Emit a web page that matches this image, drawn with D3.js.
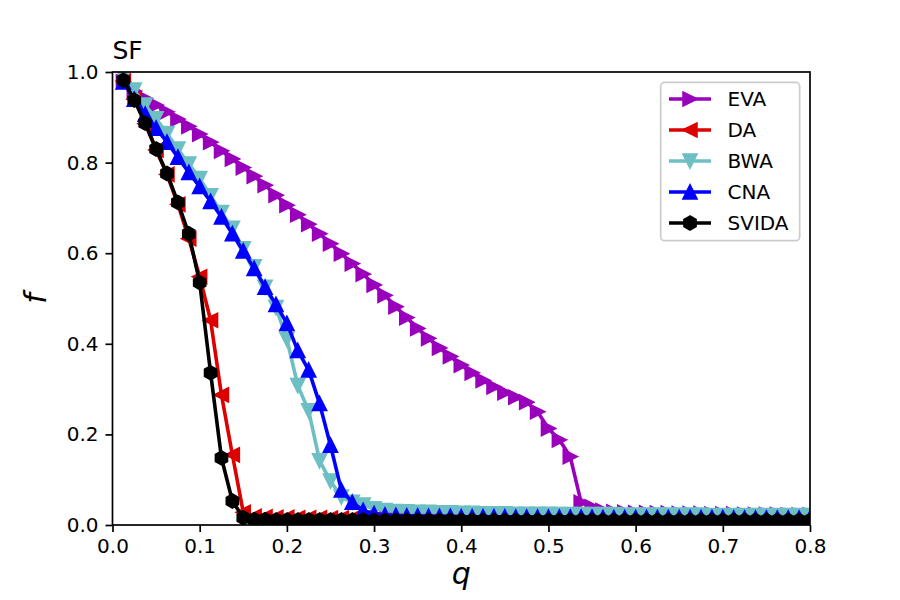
<!DOCTYPE html>
<html>
<head>
<meta charset="utf-8">
<script src="https://cdn.jsdelivr.net/npm/d3@7"></script>
<style>
    body { margin: 0; background: #ffffff; }
    text { font-family: "DejaVu Sans", sans-serif; fill: #000000; }
</style>
</head>
<body>
<div id="chart"></div>
<script>
/*
fraction f of the network left after removing a fraction q of nodes, five attack strategies
 */

//removal fraction q (shared by all series):
var qValues = [0.0125, 0.025, 0.0375, 0.05, 0.0625, 0.075, 0.0875, 0.1, 0.1125, 0.125,
    0.1375, 0.15, 0.1625, 0.175, 0.1875, 0.2, 0.2125, 0.225, 0.2375, 0.25,
    0.2625, 0.275, 0.2875, 0.3, 0.3125, 0.325, 0.3375, 0.35, 0.3625, 0.375,
    0.3875, 0.4, 0.4125, 0.425, 0.4375, 0.45, 0.4625, 0.475, 0.4875, 0.5,
    0.5125, 0.525, 0.5375, 0.55, 0.5625, 0.575, 0.5875, 0.6, 0.6125, 0.625,
    0.6375, 0.65, 0.6625, 0.675, 0.6875, 0.7, 0.7125, 0.725, 0.7375, 0.75,
    0.7625, 0.775, 0.7875, 0.8];

//series values:
var evaValues = [0.978, 0.958, 0.942, 0.927, 0.912, 0.896, 0.880, 0.863, 0.845, 0.826,
    0.808, 0.789, 0.770, 0.750, 0.728, 0.706, 0.685, 0.664, 0.643, 0.621,
    0.599, 0.577, 0.554, 0.530, 0.507, 0.482, 0.458, 0.434, 0.412, 0.391,
    0.372, 0.353, 0.336, 0.319, 0.305, 0.292, 0.282, 0.271, 0.250, 0.213,
    0.188, 0.151, 0.050, 0.040, 0.032, 0.029, 0.028, 0.027, 0.027, 0.026,
    0.026, 0.025, 0.025, 0.025, 0.024, 0.024, 0.024, 0.023, 0.023, 0.023,
    0.023, 0.022, 0.022, 0.022];

var daValues = [0.980, 0.940, 0.886, 0.828, 0.774, 0.708, 0.632, 0.548, 0.452, 0.287,
    0.155, 0.028, 0.019, 0.018, 0.017, 0.017, 0.016, 0.016, 0.016, 0.015,
    0.015, 0.015, 0.015, 0.014, 0.014, 0.014, 0.014, 0.014, 0.014, 0.013,
    0.013, 0.013, 0.013, 0.013, 0.013, 0.013, 0.013, 0.013, 0.013, 0.013,
    0.013, 0.013, 0.013, 0.012, 0.012, 0.012, 0.012, 0.012, 0.012, 0.012,
    0.012, 0.012, 0.012, 0.012, 0.012, 0.012, 0.012, 0.012, 0.012, 0.012,
    0.012, 0.012, 0.012, 0.012];

var bwaValues = [0.990, 0.960, 0.927, 0.897, 0.864, 0.830, 0.797, 0.765, 0.727, 0.690,
    0.655, 0.610, 0.570, 0.525, 0.480, 0.410, 0.308, 0.252, 0.142, 0.097,
    0.062, 0.050, 0.044, 0.036, 0.032, 0.030, 0.029, 0.028, 0.028, 0.027,
    0.027, 0.026, 0.026, 0.025, 0.025, 0.025, 0.024, 0.024, 0.024, 0.024,
    0.023, 0.023, 0.023, 0.023, 0.023, 0.023, 0.022, 0.022, 0.022, 0.022,
    0.022, 0.022, 0.022, 0.022, 0.021, 0.021, 0.021, 0.021, 0.021, 0.021,
    0.021, 0.021, 0.021, 0.021];

var cnaValues = [0.978, 0.940, 0.907, 0.876, 0.845, 0.812, 0.778, 0.747, 0.714, 0.680,
    0.643, 0.605, 0.566, 0.525, 0.487, 0.445, 0.385, 0.342, 0.268, 0.176,
    0.077, 0.050, 0.032, 0.025, 0.022, 0.021, 0.020, 0.020, 0.019, 0.019,
    0.019, 0.018, 0.018, 0.018, 0.018, 0.018, 0.017, 0.017, 0.017, 0.017,
    0.017, 0.017, 0.017, 0.017, 0.016, 0.016, 0.016, 0.016, 0.016, 0.016,
    0.016, 0.016, 0.016, 0.016, 0.016, 0.016, 0.015, 0.015, 0.015, 0.015,
    0.015, 0.015, 0.015, 0.015];

var svidaValues = [0.982, 0.938, 0.887, 0.830, 0.776, 0.712, 0.643, 0.535, 0.336, 0.148,
    0.053, 0.016, 0.012, 0.012, 0.011, 0.011, 0.011, 0.011, 0.011, 0.011,
    0.011, 0.011, 0.011, 0.010, 0.010, 0.010, 0.010, 0.010, 0.010, 0.010,
    0.010, 0.010, 0.010, 0.010, 0.010, 0.010, 0.010, 0.010, 0.010, 0.010,
    0.010, 0.010, 0.010, 0.010, 0.010, 0.010, 0.010, 0.010, 0.010, 0.010,
    0.010, 0.010, 0.010, 0.010, 0.010, 0.010, 0.010, 0.010, 0.010, 0.010,
    0.010, 0.010, 0.010, 0.010];

//names, in drawing order:
var seriesNames = ["EVA", "DA", "BWA", "CNA", "SVIDA"];

//tick labels:
var xTicks = [0.0, 0.1, 0.2, 0.3, 0.4, 0.5, 0.6, 0.7, 0.8];
var yTicks = [0.0, 0.2, 0.4, 0.6, 0.8, 1.0];

//look of each series:
var colorMap = {EVA: "#9a00bc", DA: "#dd0000", BWA: "#6dbfc3", CNA: "#0000ff", SVIDA: "#000000"};
var markerMap = {EVA: "right", DA: "left", BWA: "down", CNA: "up", SVIDA: "hexagon"};
var valueMap = {EVA: evaValues, DA: daValues, BWA: bwaValues, CNA: cnaValues, SVIDA: svidaValues};

var width = 900;
var height = 600;

//create plot pane:
var plot = d3.select("#chart")
    .append("svg")
    .attr("width", width)
    .attr("height", height);

plot.append("rect")
    .attr("width", width)
    .attr("height", height)
    .attr("fill", "#ffffff");

//inner panel bounds (pixels):
var panelLeft = 112.5, panelRight = 810, panelTop = 72, panelBottom = 525;

//set Scales
var xScale = d3.scaleLinear().domain([0, 0.8]).range([panelLeft, panelRight]);
var yScale = d3.scaleLinear().domain([0, 1.0]).range([panelBottom, panelTop]);

plot.append("clipPath")
    .attr("id", "panelClip")
    .append("rect")
    .attr("x", panelLeft)
    .attr("y", panelTop)
    .attr("width", panelRight - panelLeft)
    .attr("height", panelBottom - panelTop);

//marker shapes, size in px
var ms = 13.5;
function markerPath(kind) {
    var h = ms / 2;
    if (kind === "up") return "M0," + (-h) + "L" + h + "," + h + "L" + (-h) + "," + h + "Z";
    if (kind === "down") return "M0," + h + "L" + h + "," + (-h) + "L" + (-h) + "," + (-h) + "Z";
    if (kind === "right") return "M" + h + ",0L" + (-h) + "," + (-h) + "L" + (-h) + "," + h + "Z";
    if (kind === "left") return "M" + (-h) + ",0L" + h + "," + (-h) + "L" + h + "," + h + "Z";
    //hexagon, pointy top
    var pts = [];
    for (var i = 0; i < 6; i++) {
        var a = Math.PI / 2 + i * Math.PI / 3;
        pts.push([h * Math.cos(a), -h * Math.sin(a)]);
    }
    return "M" + pts.map(function (p) { return p[0].toFixed(2) + "," + p[1].toFixed(2); }).join("L") + "Z";
}

var panel = plot.append("g").attr("clip-path", "url(#panelClip)");

var line = d3.line()
    .x(function (d) { return xScale(d.q); })
    .y(function (d) { return yScale(d.f); });

// each series: line then its markers
seriesNames.forEach(function (name) {
    var pts = qValues.map(function (q, i) { return {q: q, f: valueMap[name][i]}; });
    var g = panel.append("g").attr("class", "series");

    g.append("path")
        .datum(pts)
        .attr("d", line)
        .attr("fill", "none")
        .attr("stroke", colorMap[name])
        .attr("stroke-width", 3.6)
        .attr("stroke-linejoin", "round");

    g.selectAll(".mk")
        .data(pts)
        .enter().append("path")
        .attr("class", "mk")
        .attr("d", markerPath(markerMap[name]))
        .attr("transform", function (d) {
            return "translate(" + xScale(d.q) + "," + yScale(d.f) + ")";
        })
        .attr("fill", colorMap[name])
        .attr("stroke", colorMap[name])
        .attr("stroke-width", 2)
        .attr("stroke-linejoin", "miter");
});

//axis:
var xAxis = d3.axisBottom(xScale).tickValues(xTicks).tickFormat(d3.format(".1f"))
    .tickSize(7).tickSizeOuter(0).tickPadding(7);
var yAxis = d3.axisLeft(yScale).tickValues(yTicks).tickFormat(d3.format(".1f"))
    .tickSize(7).tickSizeOuter(0).tickPadding(7);

var gx = plot.append("g")
    .attr("class", "axis")
    .attr("transform", "translate(0," + panelBottom + ")")
    .call(xAxis);
var gy = plot.append("g")
    .attr("class", "axis")
    .attr("transform", "translate(" + panelLeft + ",0)")
    .call(yAxis);

//TODO: move styling in css
[gx, gy].forEach(function (g) {
    g.select(".domain").remove();
    g.selectAll(".tick line").attr("stroke", "#000").attr("stroke-width", 1.7);
    g.selectAll(".tick text").style("font-size", "20px").attr("fill", "#000");
});

//frame
plot.append("rect")
    .attr("x", panelLeft)
    .attr("y", panelTop)
    .attr("width", panelRight - panelLeft)
    .attr("height", panelBottom - panelTop)
    .attr("fill", "none")
    .attr("stroke", "#000")
    .attr("stroke-width", 1.7);

//labels
plot.append("text")
    .attr("x", panelLeft)
    .attr("y", 59)
    .style("font-size", "25px")
    .text("SF");

plot.append("text")
    .attr("x", (panelLeft + panelRight) / 2)
    .attr("y", 584)
    .attr("text-anchor", "middle")
    .style("font-size", "30px")
    .style("font-style", "italic")
    .text("q");

plot.append("text")
    .attr("transform", "translate(46," + ((panelTop + panelBottom) / 2) + ") rotate(-90)")
    .attr("text-anchor", "middle")
    .style("font-size", "30px")
    .style("font-style", "italic")
    .text("f");

//legend
var legend = plot.append("g").attr("class", "legend");
legend.append("rect")
    .attr("x", 660.7)
    .attr("y", 82.4)
    .attr("width", 139)
    .attr("height", 158.3)
    .attr("rx", 4)
    .attr("fill", "#ffffff")
    .attr("fill-opacity", 0.8)
    .attr("stroke", "#cccccc")
    .attr("stroke-width", 1.7);

var rows = legend.selectAll(".row")
    .data(seriesNames)
    .enter().append("g")
    .attr("class", "row")
    .attr("transform", function (d, i) { return "translate(0," + (99 + i * 31) + ")"; });

rows.append("line")
    .attr("x1", 669)
    .attr("x2", 711)
    .attr("stroke", function (d) { return colorMap[d]; })
    .attr("stroke-width", 3.6);

rows.append("path")
    .attr("d", function (d) { return markerPath(markerMap[d]); })
    .attr("transform", "translate(690,0)")
    .attr("fill", function (d) { return colorMap[d]; })
    .attr("stroke", function (d) { return colorMap[d]; })
    .attr("stroke-width", 2);

rows.append("text")
    .attr("x", 727.5)
    .attr("dy", "0.36em")
    .style("font-size", "20px")
    .text(function (d) { return d; });
</script>
</body>
</html>
